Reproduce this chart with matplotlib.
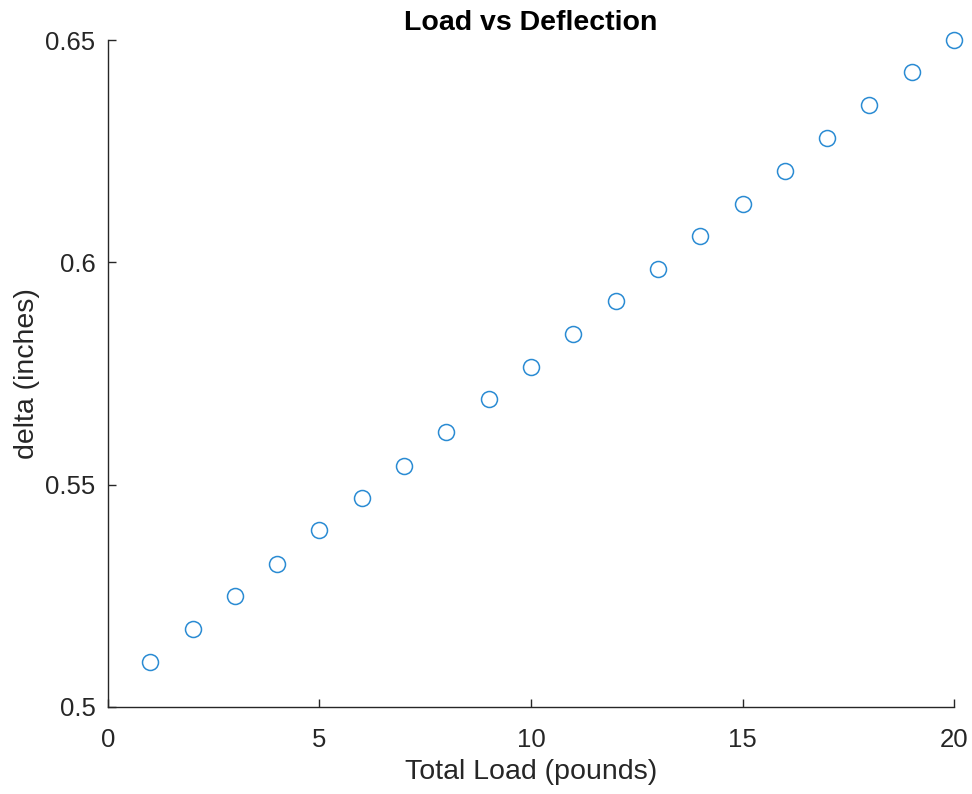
import matplotlib.pyplot as plt

# Data
load = list(range(1, 21))
delta = [0.5101, 0.5175, 0.5249, 0.5321, 0.5397, 0.5469, 0.5543, 0.5618, 0.5692, 0.5764,
         0.5838, 0.5912, 0.5986, 0.6060, 0.6132, 0.6206, 0.6280, 0.6354, 0.6428, 0.6500]
xticks = [0, 5, 10, 15, 20]
yticks = [0.5, 0.55, 0.6, 0.65]
ytick_labels = ['0.5', '0.55', '0.6', '0.65']

plt.rcParams['font.family'] = ['Liberation Sans', 'DejaVu Sans']
text_color = '#262626'

fig = plt.figure(figsize=(9.72, 7.94), dpi=100)
ax = fig.add_axes([0.1111, 0.1096, 0.8704, 0.8400])

ax.plot(load, delta, linestyle='none', marker='o', markersize=11.5,
        markerfacecolor='none', markeredgecolor='#2a8bd3', markeredgewidth=1.1,
        clip_on=False)

ax.set_xlim(0, 20)
ax.set_ylim(0.5, 0.65)
ax.set_xticks(xticks)
ax.set_yticks(yticks)
ax.set_yticklabels(ytick_labels)

for side in ['top', 'right']:
    ax.spines[side].set_visible(False)
for side in ['left', 'bottom']:
    ax.spines[side].set_color(text_color)
    ax.spines[side].set_linewidth(1.0)

ax.tick_params(direction='in', length=6, width=1.0, color=text_color,
               labelsize=18.5, labelcolor=text_color)
ax.tick_params(axis='x', pad=15)
ax.tick_params(axis='y', pad=9)

ax.set_xlabel('Total Load (pounds)', fontsize=20.5, color=text_color, labelpad=5)
ax.set_ylabel('delta (inches)', fontsize=20.5, color=text_color, labelpad=4)
ax.set_title('Load vs Deflection', fontsize=20.5, fontweight='bold', color='black', pad=7)

fig.savefig('out.png', dpi=100)
